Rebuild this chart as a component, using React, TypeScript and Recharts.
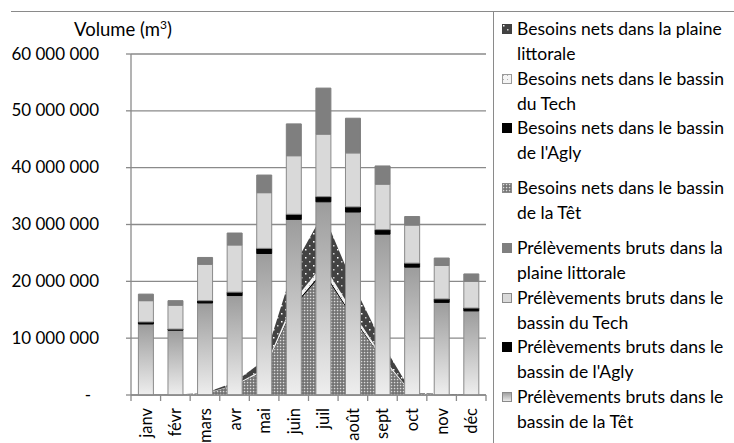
import { Area, Bar, CartesianGrid, ComposedChart, XAxis, YAxis } from "recharts"

const months = ["janv", "févr", "mars", "avr", "mai", "juin", "juil", "août", "sept", "oct", "nov", "déc"]

// prélèvements bruts (m3)
const prelevTet = [12500000, 11400000, 16200000, 17500000, 24900000, 30900000, 34000000, 32200000, 28300000, 22500000, 16300000, 14800000]
const prelevAgly = [350000, 200000, 400000, 600000, 900000, 900000, 900000, 900000, 800000, 700000, 600000, 500000]
const prelevTech = [3750000, 4200000, 6400000, 8300000, 9800000, 10300000, 11000000, 9500000, 8000000, 6700000, 5900000, 4700000]
const prelevLittoral = [1150000, 800000, 1200000, 2100000, 3100000, 5600000, 8100000, 6100000, 3200000, 1500000, 1300000, 1300000]

// besoins nets (m3)
const besoinsTet = [0, 50000, 200000, 1600000, 4200000, 15500000, 21500000, 13500000, 6200000, 200000, 100000, 50000]
const besoinsAgly = [0, 0, 20000, 50000, 100000, 300000, 400000, 300000, 150000, 0, 0, 0]
const besoinsTech = [0, 0, 30000, 100000, 300000, 800000, 1100000, 800000, 400000, 50000, 0, 0]
const besoinsLittoral = [0, 20000, 100000, 500000, 1500000, 6000000, 9000000, 5000000, 2300000, 100000, 100000, 50000]

const yTicks = [0, 10000000, 20000000, 30000000, 40000000, 50000000, 60000000]

const data = months.map((m, i) => ({
  month: m,
  pTet: prelevTet[i],
  pAgly: prelevAgly[i],
  pTech: prelevTech[i],
  pLit: prelevLittoral[i],
  bTet: besoinsTet[i],
  bAgly: besoinsAgly[i],
  bTech: besoinsTech[i],
  bLit: besoinsLittoral[i],
}))

const FONT = "Lato, sans-serif"
const GRID = "#8a8a8a"
const PLOT_LEFT = 131
const PLOT_RIGHT = 486
const BAND = (PLOT_RIGHT - PLOT_LEFT) / months.length

const fmt = (v: number) => String(v).replace(/\B(?=(\d{3})+(?!\d))/g, " ")

const VolumeTick = ({ x, y, payload }: any) => (
  <text x={payload.value === 0 ? x - 8 : x} y={y} dy={5.5} textAnchor="end" fontFamily={FONT} fontSize={17} fill="#000">
    {payload.value === 0 ? "-" : fmt(payload.value)}
  </text>
)

const MonthTick = ({ x, y, payload, index }: any) => {
  const half = BAND / 2
  return (
    <g>
      <line x1={x - half} x2={x - half} y1={y} y2={y + 6} stroke={GRID} strokeWidth={1.3} />
      {index === months.length - 1 && (
        <line x1={x + half} x2={x + half} y1={y} y2={y + 6} stroke={GRID} strokeWidth={1.3} />
      )}
      <text
        x={0}
        y={0}
        transform={`translate(${x + 6},${y + 13}) rotate(-90)`}
        textAnchor="end"
        fontFamily={FONT}
        fontSize={16.5}
        fill="#000"
      >
        {payload.value}
      </text>
    </g>
  )
}

const legendItems = [
  { lines: ["Besoins nets dans la plaine", "littorale"], fill: "url(#patLit)", stroke: "#404040", top: 28 },
  { lines: ["Besoins nets dans le bassin", "du Tech"], fill: "url(#patTech)", stroke: "#9a9a9a", top: 78 },
  { lines: ["Besoins nets dans le bassin", "de l'Agly"], fill: "url(#patAgly)", stroke: "#000", top: 127 },
  { lines: ["Besoins nets dans le bassin", "de la Têt"], fill: "url(#patTet)", stroke: "#8a8a8a", top: 187 },
  { lines: ["Prélèvements bruts dans la", "plaine littorale"], fill: "#7f7f7f", stroke: "#7f7f7f", top: 247 },
  { lines: ["Prélèvements bruts dans le", "bassin du Tech"], fill: "#d9d9d9", stroke: "#8a8a8a", top: 297 },
  { lines: ["Prélèvements bruts dans le", "bassin de l'Agly"], fill: "#000", stroke: "#000", top: 346 },
  { lines: ["Prélèvements bruts dans le", "bassin de la Têt"], fill: "url(#gradTet)", stroke: "#8a8a8a", top: 396 },
]

function ChartLegend() {
  return (
    <div
      style={{
        position: "absolute",
        left: 493,
        top: 12,
        width: 241,
        height: 431,
        borderLeft: `1.5px solid ${GRID}`,
        fontFamily: FONT,
        fontSize: 17.5,
        color: "#000",
      }}
    >
      {legendItems.map((it) => (
        <div key={it.lines[0] + it.top} style={{ position: "absolute", left: 0, top: it.top - 12 - 12.5, width: 241 }}>
          <svg width={10} height={10} style={{ position: "absolute", left: 8, top: 8 }}>
            <rect x={0.5} y={0.5} width={9} height={9} fill={it.fill} stroke={it.stroke} strokeWidth={1} />
          </svg>
          {it.lines.map((l) => (
            <div key={l} style={{ paddingLeft: 23, height: 25, lineHeight: "25px", whiteSpace: "nowrap" }}>
              {l}
            </div>
          ))}
        </div>
      ))}
    </div>
  )
}

export default function App() {
  return (
    <div style={{ position: "absolute", left: 0, top: 0, width: 734, height: 443, background: "#fff", overflow: "hidden" }}>
      <div style={{ position: "absolute", left: 11, top: 11, width: 723, borderTop: `1.5px solid ${GRID}` }} />
      <div
        style={{
          position: "absolute",
          left: 74,
          top: 17,
          fontFamily: FONT,
          fontSize: 18.5,
          color: "#000",
          whiteSpace: "nowrap",
        }}
      >
        Volume (m<sup style={{ fontSize: 12 }}>3</sup>)
      </div>
      <div style={{ position: "absolute", left: 0, top: 0 }}>
        <ComposedChart
          width={494}
          height={443}
          data={data}
          margin={{ top: 54, right: 8, bottom: 0, left: 0 }}
          barCategoryGap="25%"
        >
          <defs>
            <linearGradient id="gradTet" x1="0" y1="0" x2="0" y2="1">
              <stop offset="0%" stopColor="#9c9c9c" />
              <stop offset="100%" stopColor="#eeeeee" />
            </linearGradient>
            <pattern id="patTet" width={3} height={3} patternUnits="userSpaceOnUse">
              <rect width={3} height={3} fill="#6e6e6e" />
              <rect x={0.8} y={0.8} width={1.5} height={1.5} fill="#dcdcdc" />
            </pattern>
            <pattern id="patLit" width={8} height={8} patternUnits="userSpaceOnUse">
              <rect width={8} height={8} fill="#424242" />
              <rect x={1} y={1} width={1.5} height={1.5} fill="#ffffff" />
              <rect x={5} y={5} width={1.5} height={1.5} fill="#d0d0d0" />
            </pattern>
            <pattern id="patTech" width={4} height={4} patternUnits="userSpaceOnUse">
              <rect width={4} height={4} fill="#f4f4f4" />
              <rect x={1} y={1} width={1} height={1} fill="#b0b0b0" />
            </pattern>
            <pattern id="patAgly" width={4} height={4} patternUnits="userSpaceOnUse">
              <rect width={4} height={4} fill="#000" />
            </pattern>
          </defs>
          <CartesianGrid vertical={false} stroke={GRID} strokeWidth={1.3} />
          <XAxis
            dataKey="month"
            height={48}
            interval={0}
            axisLine={{ stroke: GRID, strokeWidth: 1.3 }}
            tickLine={false}
            tickSize={0}
            tickMargin={0}
            tick={<MonthTick />}
          />
          <YAxis
            width={131}
            domain={[0, 60000000]}
            ticks={yTicks}
            interval={0}
            axisLine={{ stroke: GRID, strokeWidth: 1.3 }}
            tickLine={{ stroke: GRID, strokeWidth: 1.3 }}
            tickSize={5}
            tickMargin={27}
            tick={<VolumeTick />}
          />
          <YAxis
            yAxisId="r"
            orientation="right"
            width={0}
            tick={false}
            tickLine={false}
            axisLine={{ stroke: GRID, strokeWidth: 1.3 }}
          />
          <Area dataKey="bTet" stackId="b" type="linear" fill="url(#patTet)" fillOpacity={1} stroke="none" isAnimationActive={false} />
          <Area dataKey="bAgly" stackId="b" type="linear" fill="#000" fillOpacity={1} stroke="none" isAnimationActive={false} />
          <Area dataKey="bTech" stackId="b" type="linear" fill="url(#patTech)" fillOpacity={1} stroke="none" isAnimationActive={false} />
          <Area dataKey="bLit" stackId="b" type="linear" fill="url(#patLit)" fillOpacity={1} stroke="none" isAnimationActive={false} />
          <Bar dataKey="pTet" stackId="p" fill="url(#gradTet)" stroke="#8a8a8a" strokeWidth={1} isAnimationActive={false} />
          <Bar dataKey="pAgly" stackId="p" fill="#000" stroke="#000" strokeWidth={1} isAnimationActive={false} />
          <Bar dataKey="pTech" stackId="p" fill="#d9d9d9" stroke="#8a8a8a" strokeWidth={1} isAnimationActive={false} />
          <Bar dataKey="pLit" stackId="p" fill="#7f7f7f" stroke="#7f7f7f" strokeWidth={1} isAnimationActive={false} />
        </ComposedChart>
      </div>
      <ChartLegend />
    </div>
  )
}
